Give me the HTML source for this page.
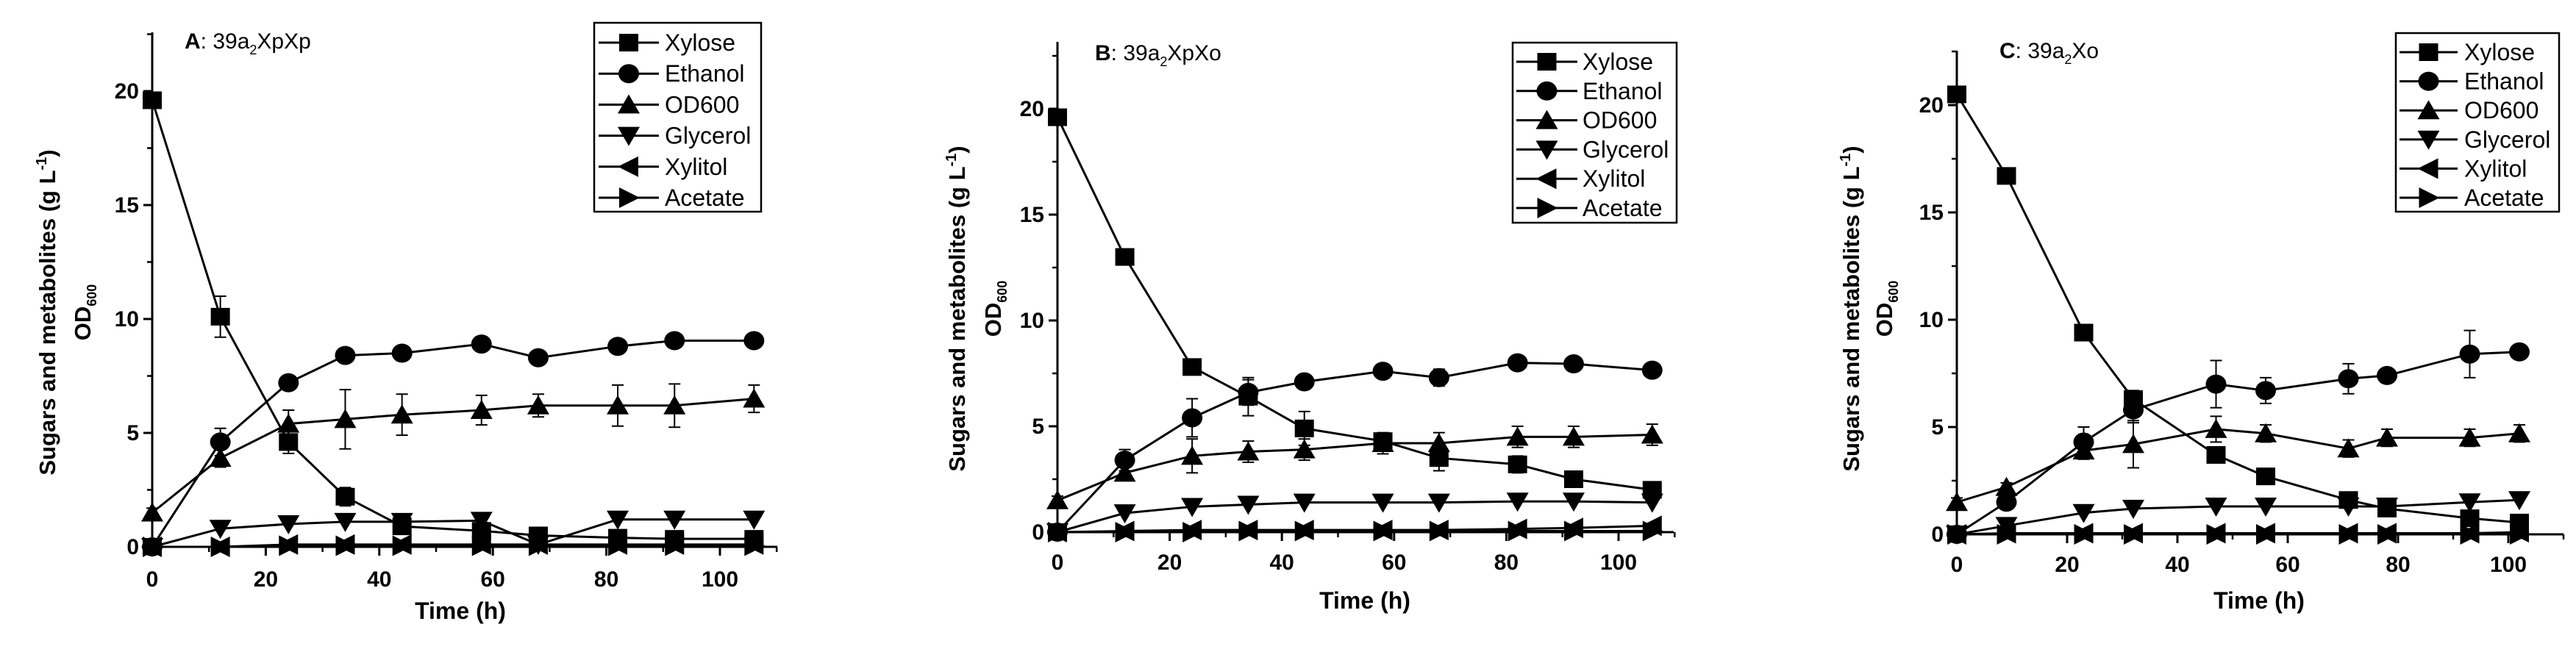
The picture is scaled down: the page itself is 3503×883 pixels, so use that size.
<!DOCTYPE html>
<html><head><meta charset="utf-8">
<style>
html,body{margin:0;padding:0;background:#fff;}
svg{display:block;font-family:"Liberation Sans",Arial,sans-serif;}
</style></head>
<body>
<svg id="chart" width="3503" height="883" viewBox="0 0 3503 883" xmlns="http://www.w3.org/2000/svg"></svg>
<script>
// ---- Panel A data ----
const timesA = [0,12,24,34,44,58,68,82,92,106];
const xyloseA = [19.6,10.1,4.6,2.2,0.9,0.7,0.5,0.4,0.35,0.35];
const xyloseErrA = [0.3,0.9,0.5,0.4,0.3,0.2,0.1,0.1,0.1,0.1];
const ethanolA = [0,4.6,7.2,8.4,8.5,8.9,8.3,8.8,9.05,9.05];
const ethanolErrA = [0,0.6,0.2,0.2,0.2,0.2,0.2,0.2,0.2,0.2];
const od600A = [1.5,3.9,5.4,5.6,5.8,6.0,6.2,6.2,6.2,6.5];
const od600ErrA = [0.2,0.4,0.6,1.3,0.9,0.65,0.5,0.9,0.95,0.6];
const glycerolA = [0,0.8,1.0,1.1,1.1,1.15,0.1,1.2,1.2,1.2];
const xylitolA = [0,0,0.1,0.1,0.1,0.1,0.1,0.1,0.1,0.1];
const acetateA = [0,0,0.05,0.05,0.05,0.05,0.05,0.05,0.05,0.05];
// ---- Panel B data ----
const timesB = [0,12,24,34,44,58,68,82,92,106];
const xyloseB = [19.6,13.0,7.8,6.4,4.9,4.3,3.5,3.2,2.5,2.0];
const xyloseErrB = [0.2,0.2,0.2,0.9,0.8,0.3,0.6,0.4,0.2,0.2];
const ethanolB = [0,3.4,5.4,6.6,7.1,7.6,7.3,8.0,7.95,7.65];
const ethanolErrB = [0,0.5,0.9,0.6,0.2,0.2,0.4,0.2,0.2,0.2];
const od600B = [1.5,2.8,3.6,3.8,3.9,4.2,4.2,4.5,4.5,4.6];
const od600ErrB = [0.2,0.3,0.8,0.5,0.5,0.5,0.5,0.5,0.5,0.5];
const glycerolB = [0,0.9,1.2,1.3,1.4,1.4,1.4,1.45,1.45,1.4];
const xylitolB = [0,0.05,0.1,0.1,0.1,0.1,0.1,0.15,0.2,0.3];
const acetateB = [0,0,0,0.05,0.05,0.05,0.05,0.05,0.05,0.05];
// ---- Panel C data ----
const timesC = [0,9,23,32,47,56,71,78,93,102];
const xyloseC = [20.5,16.7,9.4,6.3,3.7,2.7,1.6,1.2,0.75,0.55];
const xyloseErrC = [0.2,0.2,0.2,0.4,0.3,0.2,0.2,0.2,0.2,0.1];
const ethanolC = [0,1.5,4.3,5.8,7.0,6.7,7.25,7.4,8.4,8.5];
const ethanolErrC = [0,0.3,0.7,0.6,1.1,0.6,0.7,0.2,1.1,0.2];
const od600C = [1.5,2.2,3.9,4.2,4.9,4.7,4.0,4.5,4.5,4.7];
const od600ErrC = [0.2,0.2,0.4,1.1,0.6,0.4,0.4,0.4,0.4,0.4];
const glycerolC = [0,0.4,1.0,1.2,1.3,1.3,1.3,1.3,1.5,1.6];
const xylitolC = [0,0.05,0.05,0.05,0.05,0.05,0.05,0.05,0.05,0.1];
const acetateC = [0,0,0,0,0,0,0,0,0,0];
// ---- Axis ticks ----
const yTickLabels = [0,5,10,15,20];
const yMinorTicks = [2.5,7.5,12.5,17.5,22.5];
const xTickLabels = [0,20,40,60,80,100];
const xMinorTicks = [10,30,50,70,90,110];
const seriesNames = ["Xylose","Ethanol","OD600","Glycerol","Xylitol","Acetate"];
const markerShapes = ["square","circle","up","down","left","right"];

const NS = "http://www.w3.org/2000/svg";
const svg = document.getElementById("chart");
function mk(tag, attrs, parent){
  const e = document.createElementNS(NS, tag);
  for (const k in attrs) e.setAttribute(k, attrs[k]);
  (parent||svg).appendChild(e);
  return e;
}
function marker(shape, cx, cy, g){
  const w=13, h=12;
  let e;
  if (shape==="square") e = mk("rect",{x:cx-w,y:cy-h,width:2*w,height:2*h,fill:"#000"},g);
  else if (shape==="circle") e = mk("ellipse",{cx:cx,cy:cy,rx:w+1,ry:h+1,fill:"#000"},g);
  else {
    let p;
    if (shape==="up") p=[[cx,cy-h-2],[cx+w+2,cy+h],[cx-w-2,cy+h]];
    if (shape==="down") p=[[cx,cy+h+2],[cx+w+2,cy-h],[cx-w-2,cy-h]];
    if (shape==="left") p=[[cx-w-2,cy],[cx+w,cy-h-2],[cx+w,cy+h+2]];
    if (shape==="right") p=[[cx+w+2,cy],[cx-w,cy-h-2],[cx-w,cy+h+2]];
    e = mk("polygon",{points:p.map(q=>q.join(",")).join(" "),fill:"#000"},g);
  }
  return e;
}

const panels = [
  {id:"a", letter:"A", suffix:"XpXp", times:timesA, series:[xyloseA,ethanolA,od600A,glycerolA,xylitolA,acetateA], errs:[xyloseErrA,ethanolErrA,od600ErrA,null,null,null],
   x0:207, xScale:7.72, xEnd:1057, y0:744, yScale:31.0, yTop:44, title:[251,66], ylab:64, odlab:112, ymid:425, timeLab:[626,842], tickY:798,
   legend:{x:808,y:31,w:227,h:257,row0:58,dy:42.2,lx0:814,lx1:896,tx:904}},
  {id:"b", letter:"B", suffix:"XpXo", times:timesB, series:[xyloseB,ethanolB,od600B,glycerolB,xylitolB,acetateB], errs:[xyloseErrB,ethanolErrB,od600ErrB,null,null,null],
   x0:1438, xScale:7.63, xEnd:2276, y0:724, yScale:28.8, yTop:57, title:[1489,82], ylab:1301, odlab:1350, ymid:420, timeLab:[1856,828], tickY:775,
   legend:{x:2057,y:58,w:223,h:245,row0:84,dy:39.8,lx0:2062,lx1:2145,tx:2152}},
  {id:"c", letter:"C", suffix:"Xo", times:timesC, series:[xyloseC,ethanolC,od600C,glycerolC,xylitolC,acetateC], errs:[xyloseErrC,ethanolErrC,od600ErrC,null,null,null],
   x0:2661, xScale:7.5, xEnd:3486, y0:727, yScale:29.2, yTop:69, title:[2719,79], ylab:2517, odlab:2562, ymid:420, timeLab:[3072,828], tickY:778,
   legend:{x:3258,y:45,w:222,h:243,row0:71,dy:39.6,lx0:3263,lx1:3342,tx:3351}}
];

panels.forEach(P=>{
  const g = mk("g",{});
  
  
  const X = t => P.x0 + t*P.xScale;
  const Y = v => P.y0 - v*P.yScale;
  // axes
  const ax = mk("path",{d:`M${P.x0},${P.yTop} L${P.x0},${P.y0} L${P.xEnd},${P.y0}`,stroke:"#000","stroke-width":3,fill:"none"},g);
  
  
  yTickLabels.forEach(v=>{
    mk("line",{x1:P.x0-12,x2:P.x0,y1:Y(v),y2:Y(v),stroke:"#000","stroke-width":3},g);
    const t = mk("text",{x:P.x0-18,y:Y(v)+10,"text-anchor":"end","font-size":30,"font-weight":"bold"},g);
    t.textContent = v;
    
    
  });
  yMinorTicks.forEach(v=>{ mk("line",{x1:P.x0-7,x2:P.x0,y1:Y(v),y2:Y(v),stroke:"#000","stroke-width":2.5},g); });
  xTickLabels.forEach(v=>{
    mk("line",{x1:X(v),x2:X(v),y1:P.y0,y2:P.y0+12,stroke:"#000","stroke-width":3},g);
    const t = mk("text",{x:X(v),y:P.tickY,"text-anchor":"middle","font-size":30,"font-weight":"bold"},g);
    t.textContent = v;
    
    
  });
  xMinorTicks.forEach(v=>{ mk("line",{x1:X(v),x2:X(v),y1:P.y0,y2:P.y0+7,stroke:"#000","stroke-width":2.5},g); });
  // axis titles
  const xt = mk("text",{x:P.timeLab[0],y:P.timeLab[1],"text-anchor":"middle","font-size":32,"font-weight":"bold"},g);
  xt.textContent = "Time (h)";
  
  
  const yt = mk("text",{transform:`translate(${P.ylab+11},${P.ymid}) rotate(-90)`,"text-anchor":"middle","font-size":31,"font-weight":"bold"},g);
  yt.innerHTML = 'Sugars and metabolites (g L<tspan dy="-12" font-size="20">-1</tspan><tspan dy="12">)</tspan>';
  
  
  const ot = mk("text",{transform:`translate(${P.odlab+11},${P.ymid}) rotate(-90)`,"text-anchor":"middle","font-size":31,"font-weight":"bold"},g);
  ot.innerHTML = 'OD<tspan dy="8" font-size="18">600</tspan>';
  
  
  // panel title
  const pt = mk("text",{x:P.title[0],y:P.title[1],"font-size":30},g);
  pt.innerHTML = '<tspan font-weight="bold">'+P.letter+'</tspan>: 39a<tspan dy="8" font-size="18">2</tspan><tspan dy="-8">'+P.suffix+'</tspan>';
  
  
  // series
  P.series.forEach((vals,si)=>{
    const sg = mk("g",{},g);
    
    
    const errs = P.errs[si];
    if (errs) vals.forEach((v,i)=>{
      if (!errs[i]) return;
      const x=X(P.times[i]);
      mk("line",{x1:x,x2:x,y1:Y(v+errs[i]),y2:Y(v-errs[i]),stroke:"#000","stroke-width":2},sg);
      mk("line",{x1:x-8,x2:x+8,y1:Y(v+errs[i]),y2:Y(v+errs[i]),stroke:"#000","stroke-width":2},sg);
      mk("line",{x1:x-8,x2:x+8,y1:Y(v-errs[i]),y2:Y(v-errs[i]),stroke:"#000","stroke-width":2},sg);
    });
    const pts = vals.map((v,i)=>X(P.times[i])+","+Y(v)).join(" ");
    mk("polyline",{points:pts,fill:"none",stroke:"#000","stroke-width":3},sg);
    vals.forEach((v,i)=>{
      const m = marker(markerShapes[si], X(P.times[i]), Y(v), sg);
      
      
    });
  });
  // legend
  const L = P.legend;
  const lg = mk("g",{},g);
  
  
  mk("rect",{x:L.x,y:L.y,width:L.w,height:L.h,fill:"#fff",stroke:"#000","stroke-width":2.5},lg);
  seriesNames.forEach((n,i)=>{
    const y = L.row0 + i*L.dy;
    const eg = mk("g",{},lg);
    
    
    mk("line",{x1:L.lx0,x2:L.lx1,y1:y,y2:y,stroke:"#000","stroke-width":3},eg);
    marker(markerShapes[i],(L.lx0+L.lx1)/2,y,eg);
    const t = mk("text",{x:L.tx,y:y+11,"font-size":32},eg);
    t.textContent = n;
  });
});
</script>
</body></html>
